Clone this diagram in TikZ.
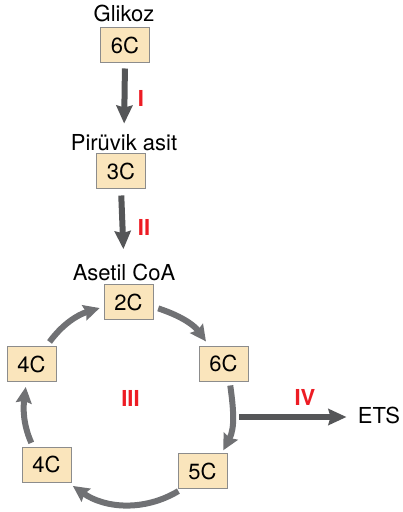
\documentclass[tikz,border=0pt]{standalone}
\usepackage{fontspec}
\setmainfont{TeX Gyre Heros}
\usetikzlibrary{arrows.meta}
\definecolor{boxfill}{RGB}{250,229,188}
\definecolor{boxline}{RGB}{140,140,140}
\definecolor{darkarrow}{RGB}{85,86,88}
\definecolor{cyclegray}{RGB}{112,113,116}
\definecolor{romanred}{RGB}{237,28,36}
\begin{document}
\begin{tikzpicture}[x=0.5pt,y=-0.5pt,
  carbon/.style={draw=boxline, line width=0.5pt, fill=boxfill, minimum width=24.5pt, minimum height=17.5pt, inner sep=0pt, font=\fontsize{11}{13}\selectfont},
  lbl/.style={inner sep=0pt, anchor=base, font=\fontsize{11}{13}\selectfont},
  roman/.style={text=romanred, font=\fontsize{11}{13}\selectfont\bfseries, inner sep=0pt},
  mainarrow/.style={draw=darkarrow, line width=3pt, -{Stealth[length=9pt,width=8pt,inset=1pt]}},
  cyclearrow/.style={draw=cyclegray, line width=3pt, -{Stealth[length=8pt,width=7.8pt,inset=1pt]}}
]
\useasboundingbox (0,0) rectangle (402,512);
\node[lbl] (glk) at (124,22) {Glikoz};
\node[carbon] (c6a) at (125,45) {6C};
\node[lbl] (pir) at (124,151) {Pirüvik asit};
\node[carbon] (c3) at (121,171) {3C};
\node[lbl] (ase) at (124,281) {Asetil CoA};
\node[carbon] (c2) at (128.5,302) {2C};
\node[carbon] (c6b) at (223.5,363.5) {6C};
\node[carbon] (c4a) at (31.5,364) {4C};
\node[carbon] (c4b) at (46.5,464.5) {4C};
\node[carbon] (c5) at (202.5,471) {5C};
\node[roman] (r1) at (141,98) {I};
\node[roman] (r2) at (144,227) {II};
\node[roman] (r3) at (130.5,398) {III};
\node[roman] (r4) at (305,397) {IV};
\node[lbl] (ets) at (379,423) {ETS};
\coordinate (ivs) at (239,417);
% main pathway
\draw[mainarrow, shorten <=2.75pt, shorten >=5.5pt] (c6a.south) -- (pir.north);
\draw[mainarrow, shorten <=3.25pt, shorten >=7.5pt] (c3.south) -- (ase.north);
\draw[mainarrow, shorten >=5.5pt] (ivs) -- (ivs -| ets.west);
% cycle
\draw[cyclearrow, shorten <=2.5pt, shorten >=2pt] (c4a.50) to[out=54, in=197] (c2.191);
\draw[cyclearrow, shorten <=2.5pt, shorten >=2.5pt] (c2.-11.5) to[out=-18, in=126] (c6b.129);
\draw[cyclearrow, shorten <=2pt, shorten >=1.5pt] (c6b.-71) to[out=-82, in=62] (c5.43);
\draw[cyclearrow, shorten <=2pt, shorten >=3pt] (c5.221) to[out=-149, in=-35] (c4b.-40);
\draw[cyclearrow, shorten <=2pt, shorten >=2.5pt] (c4b.127) to[out=114, in=263] (c4a.254);
\end{tikzpicture}
\end{document}
